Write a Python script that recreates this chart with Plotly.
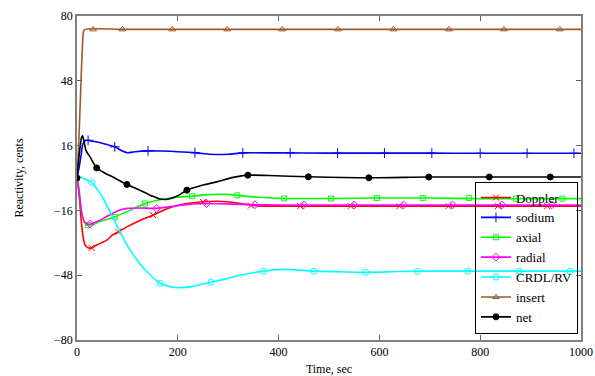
import plotly.graph_objects as go

# ---- data (time in s, reactivity in cents) ----
doppler_t = [0, 4, 8, 12, 16, 22, 29, 40, 59, 70, 82, 100, 125, 151, 180, 210, 240, 260, 300, 330, 360, 400, 500, 600, 700, 800, 900, 1000]
doppler_v = [0, -8, -20, -29, -33, -34.5, -34.5, -33, -30.7, -28.2, -26.6, -24, -21, -18.3, -15, -13, -12, -11.6, -11.7, -12.8, -13.8, -13.9, -13.9, -13.9, -13.9, -13.9, -13.9, -13.9]
doppler_mt = [29, 82, 151, 250, 345, 443, 543, 640, 737, 835, 933]
doppler_mv = [-34.5, -26.6, -18.3, -11.8, -13.6, -13.9, -13.9, -13.9, -13.9, -13.9, -13.9]

sodium_t = [0, 4, 8, 12, 18, 22, 35, 50, 75, 90, 100, 115, 141, 170, 200, 237, 265, 300, 329, 400, 500, 600, 700, 800, 900, 1000]
sodium_v = [0, 5, 11, 17, 18.6, 18.6, 18, 17.2, 15.4, 13.3, 12.5, 13, 13.4, 13.3, 13, 12.4, 11.7, 11.7, 12.4, 12.4, 12.3, 12.3, 12.3, 12.2, 12.2, 12.2]
sodium_mt = [22, 75, 141, 234, 329, 423, 517, 610, 704, 800, 893, 986]
sodium_mv = [18.6, 15.4, 13.4, 12.5, 12.4, 12.4, 12.3, 12.3, 12.3, 12.2, 12.2, 12.2]

axial_t = [0, 4, 8, 12, 16, 22, 30, 45, 60, 75, 100, 135, 170, 200, 228, 260, 300, 318, 360, 411, 504, 600, 700, 800, 900, 1000]
axial_v = [0, -6, -15, -20, -22.5, -23.3, -23, -21.5, -20.4, -19.2, -16.5, -12.6, -10.5, -9.5, -9.0, -8.2, -8.1, -8.6, -9.5, -10.1, -10.1, -9.9, -9.9, -10.2, -10.2, -10.2]
axial_mt = [22, 75, 135, 228, 318, 411, 504, 595, 686, 778, 871, 963]
axial_mv = [-23.3, -19.2, -12.6, -9.0, -8.6, -10.1, -10.1, -9.9, -9.9, -9.9, -10.2, -10.2]

radial_t = [0, 4, 8, 12, 16, 22, 26, 35, 50, 70, 85, 100, 125, 158, 190, 220, 257, 300, 350, 400, 500, 600, 700, 800, 900, 1000]
radial_v = [0, -6, -15, -20, -22, -22.8, -22.8, -22, -20.3, -17.5, -15.8, -15, -14.8, -15, -14, -13, -12.6, -12.8, -13.2, -13.3, -13.3, -13.3, -13.3, -13.3, -13.3, -13.3]
radial_mt = [26, 158, 257, 353, 450, 550, 648, 745, 843, 942]
radial_mv = [-22.8, -15, -12.6, -13.2, -13.3, -13.3, -13.3, -13.3, -13.3, -13.3]

crdl_t = [0, 3, 8, 15, 22, 29, 40, 52, 65, 82, 100, 115, 125, 150, 165, 185, 204, 230, 266, 300, 323, 370, 409, 470, 522, 573, 640, 700, 800, 900, 1000]
crdl_v = [0, 0.6, 0.5, -0.5, -1.2, -2.2, -5.5, -10, -16.5, -24.8, -33.5, -39, -42.5, -49, -52, -53.7, -54.2, -53.5, -51.5, -49.5, -48, -46, -45.1, -46, -46.3, -46.6, -46.2, -46, -46, -46, -46]
crdl_mt = [29, 165, 266, 370, 470, 573, 675, 775, 877, 978]
crdl_mv = [-2.2, -52, -51.5, -46, -46, -46.6, -46.1, -46, -46, -46]

insert_t = [0, 2, 5, 8, 11, 13, 16, 100, 1000]
insert_v = [0, 9, 27, 48, 66, 72.5, 73.4, 73.4, 73.4]
insert_mt = [32, 90, 189, 298, 407, 518, 628, 738, 847, 958]
insert_mv = [73.4] * 10

net_t = [0, 3, 6, 9, 11, 14, 18, 26, 39, 55, 75, 99, 125, 150, 165, 180, 200, 218, 250, 277, 310, 339, 380, 459, 579, 698, 818, 939, 1000]
net_v = [0, 8, 15, 20, 20.8, 18, 13.5, 10.4, 5, 2.5, 0, -3.2, -6, -9, -10.4, -10.5, -8.8, -6, -3.5, -1.9, 0.3, 1.4, 1.2, 0.6, 0.1, 0.5, 0.5, 0.5, 0.5]
net_mt = [0, 39, 99, 218, 339, 459, 579, 698, 818, 939]
net_mv = [0, 5, -3.2, -6, 1.4, 0.6, 0.1, 0.5, 0.5, 0.5]

x_ticks = [0, 200, 400, 600, 800, 1000]
y_ticks = [-80, -48, -16, 16, 48, 80]

series = [
    ("Doppler", doppler_t, doppler_v, doppler_mt, doppler_mv, "#ff0000", "x-thin", 6),
    ("sodium", sodium_t, sodium_v, sodium_mt, sodium_mv, "#0000ff", "cross-thin", 7),
    ("axial", axial_t, axial_v, axial_mt, axial_mv, "#00ff00", "square-open", 5),
    ("radial", radial_t, radial_v, radial_mt, radial_mv, "#ff00ff", "diamond-open", 6),
    ("CRDL/RV", crdl_t, crdl_v, crdl_mt, crdl_mv, "#00ffff", "circle-open", 6),
    ("insert", insert_t, insert_v, insert_mt, insert_mv, "#a0582a", "triangle-up-open", 6),
    ("net", net_t, net_v, net_mt, net_mv, "#000000", "circle", 6),
]

FONT = "Liberation Serif"
fig = go.Figure()

for name, t, v, mt, mv, col, sym, sz in series:
    fig.add_trace(go.Scatter(x=t, y=v, mode="lines", line=dict(color=col, width=1.6, shape="spline", smoothing=0.7),
                             showlegend=False, hoverinfo="skip"))
    fig.add_trace(go.Scatter(x=mt, y=mv, mode="markers", showlegend=False,
                             marker=dict(symbol=sym, size=sz, color=col, line=dict(color=col, width=1))))

for name, t, v, mt, mv, col, sym, sz in series:
    fig.add_trace(go.Scatter(x=[None], y=[None], mode="lines+markers", name=name,
                             line=dict(color=col, width=1.6),
                             marker=dict(symbol=sym, size=sz, color=col, line=dict(color=col, width=1))))

axis_common = dict(showline=True, linecolor="#808080", linewidth=1.5, mirror="ticks", ticks="inside",
                   ticklen=5, tickcolor="#606060", tickwidth=1, showgrid=False, zeroline=False,
                   automargin=False, tickfont=dict(family=FONT, size=12, color="#000000"))

fig.update_layout(
    width=595, height=376,
    margin=dict(l=77, r=14, t=16, b=36),
    paper_bgcolor="white", plot_bgcolor="white",
    font=dict(family=FONT, size=12, color="#000000"),
    xaxis=dict(range=[0, 1000], tickvals=x_ticks,
               title=dict(text="Time, sec", standoff=9, font=dict(family=FONT, size=12)), **axis_common),
    yaxis=dict(range=[-80, 80], tickvals=y_ticks,
               title=dict(text="Reactivity, cents", standoff=28, font=dict(family=FONT, size=12)), **axis_common),
    legend=dict(x=0.994, y=0.02, xanchor="right", yanchor="bottom", bgcolor="rgba(255,255,255,0)",
                bordercolor="#000000", borderwidth=1, font=dict(family=FONT, size=13),
                itemwidth=30, tracegroupgap=0),
)

fig.write_html("out.html")
